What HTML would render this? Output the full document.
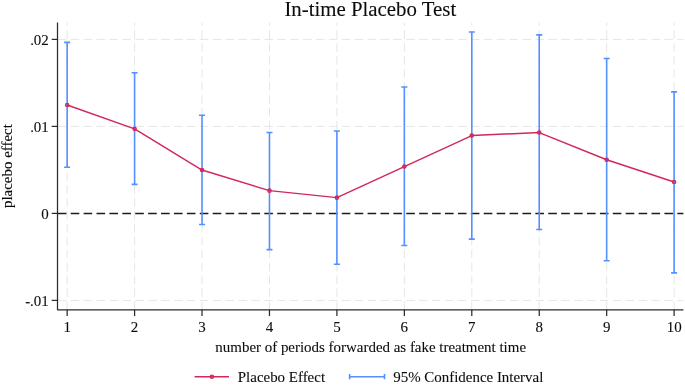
<!DOCTYPE html><html><head><meta charset="utf-8"><title>In-time Placebo Test</title>
<style>html,body{margin:0;padding:0;background:#fff}svg{display:block;will-change:transform}text{font-family:"Liberation Serif",serif;fill:#0c0c0c;stroke:#0c0c0c;stroke-width:.1px}</style></head><body>
<svg width="685" height="385" viewBox="0 0 685 385">
<rect width="685" height="385" fill="#fff"/>
<g stroke="#e6e6e6" stroke-width="1" stroke-dasharray="8.6 4.307" fill="none">
<line x1="57.8" y1="39.4" x2="683.4" y2="39.4"/>
<line x1="57.8" y1="126.4" x2="683.4" y2="126.4"/>
<line x1="57.8" y1="300.4" x2="683.4" y2="300.4"/>
<line x1="67.15" y1="310" x2="67.15" y2="22.6"/>
<line x1="134.59" y1="310" x2="134.59" y2="22.6"/>
<line x1="202.03" y1="310" x2="202.03" y2="22.6"/>
<line x1="269.47" y1="310" x2="269.47" y2="22.6"/>
<line x1="336.91" y1="310" x2="336.91" y2="22.6"/>
<line x1="404.35" y1="310" x2="404.35" y2="22.6"/>
<line x1="471.79" y1="310" x2="471.79" y2="22.6"/>
<line x1="539.23" y1="310" x2="539.23" y2="22.6"/>
<line x1="606.67" y1="310" x2="606.67" y2="22.6"/>
<line x1="674.11" y1="310" x2="674.11" y2="22.6"/>
</g>
<line x1="57.8" y1="213.4" x2="683.4" y2="213.4" stroke="#1c1c1c" stroke-width="1.5" stroke-dasharray="8.6 4.307"/>
<g stroke="#5590ff" stroke-width="1.6" fill="none">
<path d="M64.15 42.35H70.15M67.15 42.35V167.25M64.15 167.25H70.15"/>
<path d="M131.59 72.75H137.59M134.59 72.75V184.35M131.59 184.35H137.59"/>
<path d="M199.03 115.25H205.03M202.03 115.25V224.55M199.03 224.55H205.03"/>
<path d="M266.47 132.55H272.47M269.47 132.55V249.65M266.47 249.65H272.47"/>
<path d="M333.91 131.05H339.91M336.91 131.05V264.25M333.91 264.25H339.91"/>
<path d="M401.35 87.05000000000001H407.35M404.35 87.05000000000001V245.45000000000002M401.35 245.45000000000002H407.35"/>
<path d="M468.79 32.05H474.79M471.79 32.05V239.15M468.79 239.15H474.79"/>
<path d="M536.23 34.85H542.23M539.23 34.85V229.55M536.23 229.55H542.23"/>
<path d="M603.67 58.449999999999996H609.67M606.67 58.449999999999996V260.75M603.67 260.75H609.67"/>
<path d="M671.11 91.85000000000001H677.11M674.11 91.85000000000001V272.84999999999997M671.11 272.84999999999997H677.11"/>
</g>
<path d="M67.15 104.95 L134.59 128.85 L202.03 170.05 L269.47 190.65 L336.91 197.65 L404.35 166.55 L471.79 135.55 L539.23 132.55 L606.67 159.75 L674.11 182.05" stroke="#d0295a" stroke-width="1.45" fill="none" stroke-linejoin="round"/>
<g fill="#d0295a" fill-opacity="0.3" stroke="#d0295a" stroke-width="1.3">
<circle cx="67.15" cy="104.95" r="1.65"/>
<circle cx="134.59" cy="128.85" r="1.65"/>
<circle cx="202.03" cy="170.05" r="1.65"/>
<circle cx="269.47" cy="190.65" r="1.65"/>
<circle cx="336.91" cy="197.65" r="1.65"/>
<circle cx="404.35" cy="166.55" r="1.65"/>
<circle cx="471.79" cy="135.55" r="1.65"/>
<circle cx="539.23" cy="132.55" r="1.65"/>
<circle cx="606.67" cy="159.75" r="1.65"/>
<circle cx="674.11" cy="182.05" r="1.65"/>
</g>
<g stroke="#2c2c2c" stroke-width="1.25" fill="none" stroke-linejoin="round">
<path d="M57.5 22.6V309.8H683.4"/>
<line x1="51.7" y1="39.4" x2="57.5" y2="39.4"/>
<line x1="51.7" y1="126.4" x2="57.5" y2="126.4"/>
<line x1="51.7" y1="213.4" x2="57.5" y2="213.4"/>
<line x1="51.7" y1="300.4" x2="57.5" y2="300.4"/>
<line x1="67.15" y1="309.8" x2="67.15" y2="316.1"/>
<line x1="134.59" y1="309.8" x2="134.59" y2="316.1"/>
<line x1="202.03" y1="309.8" x2="202.03" y2="316.1"/>
<line x1="269.47" y1="309.8" x2="269.47" y2="316.1"/>
<line x1="336.91" y1="309.8" x2="336.91" y2="316.1"/>
<line x1="404.35" y1="309.8" x2="404.35" y2="316.1"/>
<line x1="471.79" y1="309.8" x2="471.79" y2="316.1"/>
<line x1="539.23" y1="309.8" x2="539.23" y2="316.1"/>
<line x1="606.67" y1="309.8" x2="606.67" y2="316.1"/>
<line x1="674.11" y1="309.8" x2="674.11" y2="316.1"/>
</g>
<g font-size="14.95" text-anchor="end">
<text x="48.8" y="45.0">.02</text>
<text x="48.8" y="132.0">.01</text>
<text x="48.8" y="219.0">0</text>
<text x="48.8" y="306.0">-.01</text>
</g>
<g font-size="14.95" text-anchor="middle">
<text x="67.15" y="332.4">1</text>
<text x="134.59" y="332.4">2</text>
<text x="202.03" y="332.4">3</text>
<text x="269.47" y="332.4">4</text>
<text x="336.91" y="332.4">5</text>
<text x="404.35" y="332.4">6</text>
<text x="471.79" y="332.4">7</text>
<text x="539.23" y="332.4">8</text>
<text x="606.67" y="332.4">9</text>
<text x="674.31" y="332.4">10</text>
<text x="370.7" y="351.95">number of periods forwarded as fake treatment time</text>
<text transform="translate(11.7,166.1) rotate(-90)">placebo effect</text>
</g>
<text x="370.3" y="16.0" font-size="20.85" text-anchor="middle">In-time Placebo Test</text>
<line x1="194.6" y1="376.7" x2="229" y2="376.7" stroke="#d0295a" stroke-width="1.45"/><circle cx="211.9" cy="376.7" r="1.65" fill="#d0295a" fill-opacity="0.3" stroke="#d0295a" stroke-width="1.3"/>
<text x="237.8" y="382.2" font-size="14.95">Placebo Effect</text>
<path d="M349.6 376.7H384.5M349.6 374.1V379.3M384.5 374.1V379.3" stroke="#5590ff" stroke-width="1.6" fill="none"/>
<text x="393.2" y="382.2" font-size="14.95">95% Confidence Interval</text>
</svg></body></html>
